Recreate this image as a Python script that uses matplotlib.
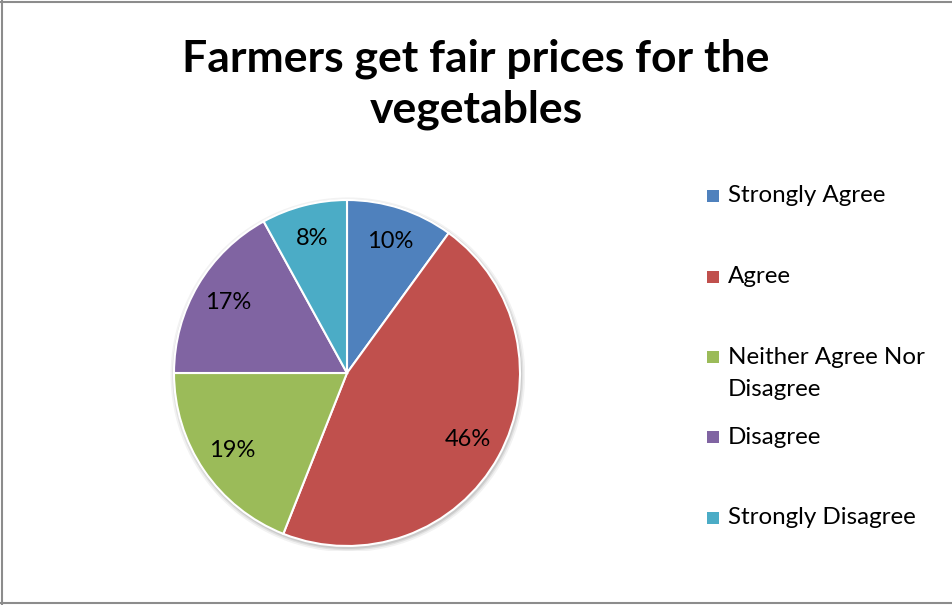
import matplotlib
matplotlib.use("Agg")
import matplotlib.pyplot as plt
from matplotlib.patches import Rectangle, Circle
from matplotlib.lines import Line2D

plt.rcParams['font.family'] = ['Lato', 'DejaVu Sans']

title = "Farmers get fair prices for the\nvegetables"
categories = ["Strongly Agree", "Agree", "Neither Agree Nor\nDisagree", "Disagree", "Strongly Disagree"]
shares = [10, 46, 19, 17, 8]
colors = ["#4F81BD", "#C0504D", "#9BBB59", "#8064A2", "#4BACC6"]

W, H = 952, 605
fig = plt.figure(figsize=(W / 100, H / 100), dpi=100)

# chart frame
for xs, ys in [([0, 1], [1 - 1.5 / H, 1 - 1.5 / H]),
               ([1.5 / W, 1.5 / W], [0, 1]),
               ([0, 1], [2.5 / H, 2.5 / H])]:
    fig.add_artist(Line2D(xs, ys, transform=fig.transFigure, color="#8C8C8C", lw=1.5))

fig.text(476 / W, 1 - 84 / H, title, ha="center", va="center",
         fontsize=32, fontweight="bold", linespacing=1.32)

# pie axes: centre (347, 373) px, radius 173 px
cx, cy, r = 347, 373, 173
pad = 1.03
ax = fig.add_axes([(cx - r * pad) / W, (H - cy - r * pad) / H, 2 * r * pad / W, 2 * r * pad / H])

# soft shadow under the pie
for k, a in [(1.025, 0.05), (1.015, 0.07), (1.007, 0.09)]:
    ax.add_patch(Circle((0.005, -0.01), k, color="black", alpha=a, lw=0, zorder=0))

wedges, _, autotexts = ax.pie(
    shares, colors=colors, startangle=90, counterclock=False, radius=1,
    autopct="%1.0f%%", pctdistance=0.8,
    wedgeprops=dict(edgecolor="white", linewidth=1.5),
    textprops=dict(fontsize=17, color="black"))
for w in wedges:
    w.set_zorder(2)
for t in autotexts:
    t.set_zorder(3)
ax.set_xlim(-pad, pad)
ax.set_ylim(-pad, pad)
ax.set_aspect("equal")
ax.axis("off")

# legend entries, one slot each; wrapped names continue below their first line
slot_tops = [196, 277, 357, 437, 518]
line_step = 32
for name, col, y in zip(categories, colors, slot_tops):
    fig.add_artist(Rectangle((707 / W, 1 - (y + 6) / H), 12 / W, 12 / H,
                             transform=fig.transFigure, color=col, lw=0))
    for i, part in enumerate(name.split("\n")):
        fig.text(728 / W, 1 - (y + i * line_step) / H, part, ha="left", va="center",
                 fontsize=17.4)

fig.savefig("out.png", dpi=100)
